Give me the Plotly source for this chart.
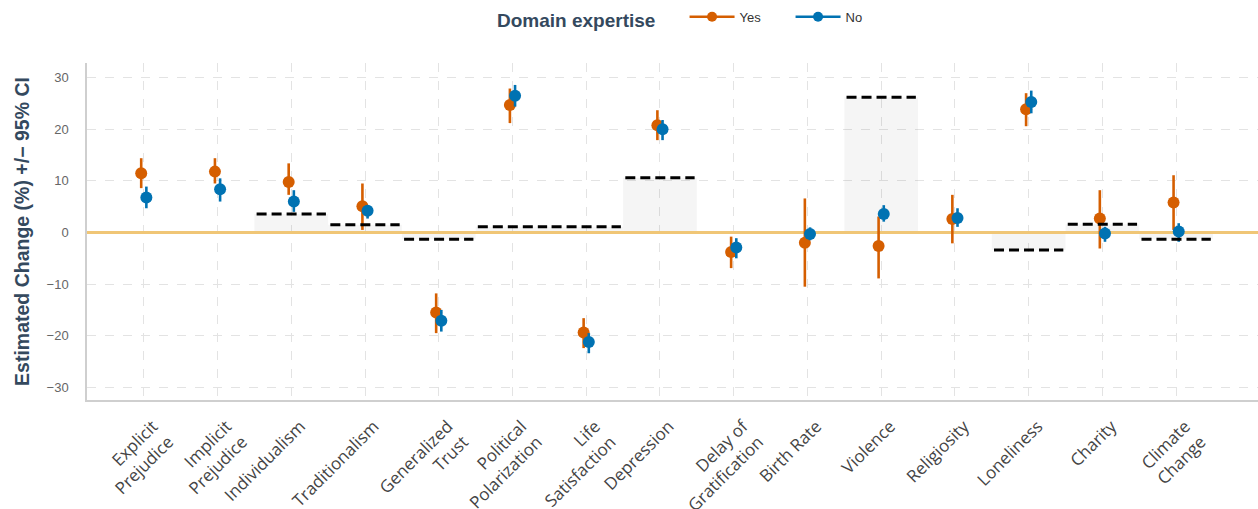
import plotly.graph_objects as go

# Outcome categories (x axis)
categories = [
    "Explicit<br>Prejudice", "Implicit<br>Prejudice", "Individualism", "Traditionalism",
    "Generalized<br>Trust", "Political<br>Polarization", "Life<br>Satisfaction", "Depression",
    "Delay of<br>Gratification", "Birth Rate", "Violence", "Religiosity", "Loneliness",
    "Charity", "Climate<br>Change",
]

# Estimated change (%) with 95% CI, respondents with domain expertise
yes_est = [11.5, 11.8, 9.8, 5.1, -15.5, 24.7, -19.4, 20.8, -3.8, -2.0, -2.6, 2.6, 23.9, 2.7, 5.8]
yes_lo = [8.6, 9.5, 7.3, 0.5, -19.5, 21.2, -22.4, 17.9, -6.9, -10.5, -8.9, -2.1, 20.6, -3.1, 0.5]
yes_hi = [14.4, 14.4, 13.4, 9.5, -11.8, 27.9, -16.6, 23.7, -0.8, 6.6, 3.1, 7.3, 27.0, 8.2, 11.1]

# Estimated change (%) with 95% CI, respondents without domain expertise
no_est = [6.8, 8.4, 6.0, 4.2, -17.1, 26.5, -21.2, 20.0, -2.9, -0.3, 3.6, 2.8, 25.3, -0.2, 0.2]
no_lo = [4.7, 6.0, 4.0, 2.7, -19.2, 24.4, -23.4, 17.9, -5.0, -1.5, 2.1, 1.1, 23.1, -1.8, -1.8]
no_hi = [8.9, 10.5, 8.2, 5.3, -15.0, 28.6, -19.5, 21.8, -1.1, 1.0, 5.3, 4.7, 27.5, 1.1, 1.8]

# Observed benchmark change per outcome (None = no benchmark)
benchmark = [None, None, 3.6, 1.5, -1.3, 1.1, 1.1, 10.6, None, None, 26.2, None, -3.4, 1.6, -1.3]

ORANGE = "#d55e00"
BLUE = "#0072b2"
DODGE = 0.035
X_RANGE = [-0.77, 15.11]

idx = list(range(len(categories)))
fig = go.Figure()

# Shaded band from zero up/down to each benchmark
for i, v in zip(idx, benchmark):
    if v is None:
        continue
    fig.add_shape(
        type="rect", xref="x", yref="y",
        x0=i - 0.5, x1=i + 0.5, y0=0, y1=v,
        fillcolor="rgba(0,0,0,0.04)", line=dict(width=0), layer="between",
    )

# Zero reference line
fig.add_trace(go.Scatter(
    x=X_RANGE, y=[0, 0], mode="lines", showlegend=False, hoverinfo="skip",
    line=dict(color="rgb(240,198,118)", width=3),
))


def series(est, lo, hi, color, offset, name):
    return go.Scatter(
        x=[i + offset for i in idx], y=est, mode="markers", name=name,
        showlegend=False,
        marker=dict(color=color, size=12),
        error_y=dict(
            type="data", symmetric=False,
            array=[h - e for h, e in zip(hi, est)],
            arrayminus=[e - l for e, l in zip(est, lo)],
            color=color, thickness=2.6, width=0,
        ),
    )


fig.add_trace(series(yes_est, yes_lo, yes_hi, ORANGE, -DODGE, "Yes"))
fig.add_trace(series(no_est, no_lo, no_hi, BLUE, DODGE, "No"))

# Benchmark dashed lines
for i, v in zip(idx, benchmark):
    if v is None:
        continue
    fig.add_trace(go.Scatter(
        x=[i - 0.47, i + 0.47], y=[v, v], mode="lines", showlegend=False,
        line=dict(color="black", width=3, dash="10px,5px"), hoverinfo="skip",
    ))

# Legend entries
for name, color in [("Yes", ORANGE), ("No", BLUE)]:
    fig.add_trace(go.Scatter(
        x=[None], y=[None], mode="lines+markers", name=name,
        line=dict(color=color, width=2.5), marker=dict(color=color, size=10),
    ))

fig.update_layout(
    width=1258, height=509,
    margin=dict(l=87, r=0, t=63, b=109, autoexpand=False),
    paper_bgcolor="white", plot_bgcolor="white",
    legend=dict(
        orientation="h", xref="container", x=0.3935, xanchor="left",
        yref="container", y=0.962, yanchor="middle",
        title=dict(text="<b>Domain expertise</b>\u00a0\u00a0\u00a0\u00a0",
                   font=dict(family="Liberation Sans", size=19, color="#34495e"), side="left"),
        font=dict(family="Liberation Sans", size=13, color="#333333"),
        itemwidth=45, entrywidth=46, entrywidthmode="pixels",
    ),
)

fig.update_xaxes(
    range=X_RANGE, tickmode="array", tickvals=idx, ticktext=categories,
    tickangle=-45, tickfont=dict(family="Open Sans", size=17, color="#444444"),
    ticks="outside", ticklen=8, tickcolor="rgba(0,0,0,0)", automargin=False,
    ticklabelshift=9,
    showgrid=True, gridcolor="#e3e3e3", griddash="dash", gridwidth=1,
    showline=True, linecolor="#cfcfcf", linewidth=1.5, zeroline=False,
)
fig.update_yaxes(
    range=[-32.46, 32.85], tickmode="array", tickvals=[-30, -20, -10, 0, 10, 20, 30],
    tickfont=dict(family="Liberation Sans", size=13, color="#666666"),
    ticks="outside", ticklen=14, tickcolor="rgba(0,0,0,0)", automargin=False,
    showgrid=True, gridcolor="#e3e3e3", griddash="dash", gridwidth=1,
    showline=True, linecolor="#cfcfcf", linewidth=1.5, zeroline=False,
    title=dict(text="<b>Estimated Change (%) +/− 95% CI</b>",
               font=dict(family="Liberation Sans", size=19.5, color="#34495e"), standoff=12),
)

fig.write_html("out.html")
